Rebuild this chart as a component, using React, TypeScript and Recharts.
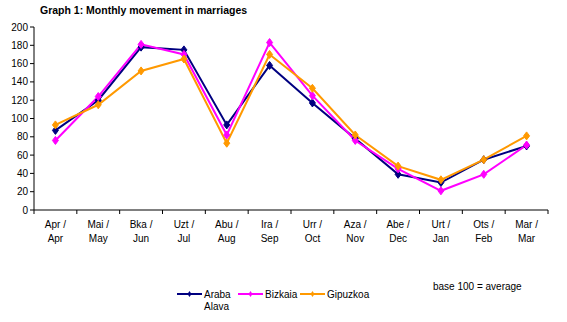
import { ComposedChart, Line, XAxis, YAxis } from 'recharts';

const months = [
  ['Apr /', 'Apr'],
  ['Mai /', 'May'],
  ['Bka /', 'Jun'],
  ['Uzt /', 'Jul'],
  ['Abu /', 'Aug'],
  ['Ira /', 'Sep'],
  ['Urr /', 'Oct'],
  ['Aza /', 'Nov'],
  ['Abe /', 'Dec'],
  ['Urt /', 'Jan'],
  ['Ots /', 'Feb'],
  ['Mar /', 'Mar'],
];

const araba = [87, 120, 178, 175, 93, 158, 117, 78, 39, 30, 55, 70];
const bizkaia = [76, 124, 181, 170, 82, 183, 125, 76, 45, 21, 39, 71];
const gipuzkoa = [93, 115, 152, 165, 73, 170, 133, 82, 48, 33, 55, 81];

const yTicks = [0, 20, 40, 60, 80, 100, 120, 140, 160, 180, 200];

const SERIES = [
  { key: 'araba', name: 'Araba', sub: 'Alava', color: '#000080' },
  { key: 'bizkaia', name: 'Bizkaia', sub: '', color: '#ff00ff' },
  { key: 'gipuzkoa', name: 'Gipuzkoa', sub: '', color: '#ff9900' },
];

const data = months.map((m, i) => ({
  label: m.join('|'),
  araba: araba[i],
  bizkaia: bizkaia[i],
  gipuzkoa: gipuzkoa[i],
}));

const FONT = '"Liberation Sans", Arial, sans-serif';
const W = 567;
const H = 322;
const LEFT = 34;
const RIGHT = 19;
const BAND = (W - LEFT - RIGHT) / months.length;

function Diamond(color: string) {
  return (props: any) => {
    const { cx, cy, index } = props;
    if (cx == null || cy == null) return <g key={index} />;
    return (
      <path
        key={index}
        d={`M${cx},${cy - 4} L${cx + 3},${cy} L${cx},${cy + 4} L${cx - 3},${cy} Z`}
        fill={color}
        stroke={color}
        strokeWidth={1}
      />
    );
  };
}

function MonthTick(props: any) {
  const { x, y, payload, index } = props;
  const [top, bottom] = String(payload.value).split('|');
  const left = x - BAND / 2;
  return (
    <g>
      <line x1={left} y1={y - 8} x2={left} y2={y - 4} stroke="#000" />
      {index === months.length - 1 && (
        <line x1={x + BAND / 2} y1={y - 8} x2={x + BAND / 2} y2={y - 4} stroke="#000" />
      )}
      <text x={x} y={y + 10} textAnchor="middle" fontSize={10} fontFamily={FONT} fill="#000">
        {top}
      </text>
      <text x={x} y={y + 24} textAnchor="middle" fontSize={10} fontFamily={FONT} fill="#000">
        {bottom}
      </text>
    </g>
  );
}

function LegendBox() {
  const items = [
    { s: SERIES[0], x: 177 },
    { s: SERIES[1], x: 238 },
    { s: SERIES[2], x: 300 },
  ];
  return (
    <svg width={W} height={40} style={{ position: 'absolute', left: 0, top: 282 }}>
      {items.map(({ s, x }) => (
        <g key={s.key}>
          <line x1={x} y1={12} x2={x + 25} y2={12} stroke={s.color} strokeWidth={2} />
          <path
            d={`M${x + 12.5},${9} L${x + 14.5},${12} L${x + 12.5},${15} L${x + 10.5},${12} Z`}
            fill={s.color}
          />
          <text x={x + 27} y={16} fontSize={10} fontFamily={FONT} fill="#000">
            {s.name}
          </text>
          {s.sub && (
            <text x={x + 27} y={28} fontSize={10} fontFamily={FONT} fill="#000">
              {s.sub}
            </text>
          )}
        </g>
      ))}
    </svg>
  );
}

export default function App() {
  return (
    <div style={{ position: 'absolute', left: 0, top: 0, width: W, height: H, background: '#fff' }}>
      <div
        style={{
          position: 'absolute',
          left: 40,
          top: 4,
          fontFamily: FONT,
          fontWeight: 'bold',
          fontSize: 10.5,
          color: '#000',
        }}
      >
        Graph 1: Monthly movement in marriages
      </div>
      <ComposedChart
        width={W}
        height={H}
        data={data}
        margin={{ top: 27, right: RIGHT, bottom: 62, left: 0 }}
      >
        <XAxis
          dataKey="label"
          scale="band"
          interval={0}
          tickLine={false}
          axisLine={{ stroke: '#000' }}
          tick={<MonthTick />}
          height={50}
        />
        <YAxis
          width={LEFT}
          domain={[0, 200]}
          ticks={yTicks}
          interval={0}
          tickSize={4}
          tickLine={{ stroke: '#000' }}
          axisLine={{ stroke: '#000' }}
          tick={{ fontSize: 10, fontFamily: FONT, fill: '#000' }}
        />
        {SERIES.map((s) => (
          <Line
            key={s.key}
            dataKey={s.key}
            name={s.name}
            stroke={s.color}
            strokeWidth={2}
            dot={Diamond(s.color)}
            activeDot={false}
            isAnimationActive={false}
          />
        ))}
      </ComposedChart>
      <LegendBox />
      <div
        style={{
          position: 'absolute',
          left: 433,
          top: 281,
          fontFamily: FONT,
          fontSize: 10,
          color: '#000',
        }}
      >
        base 100 = average
      </div>
    </div>
  );
}
